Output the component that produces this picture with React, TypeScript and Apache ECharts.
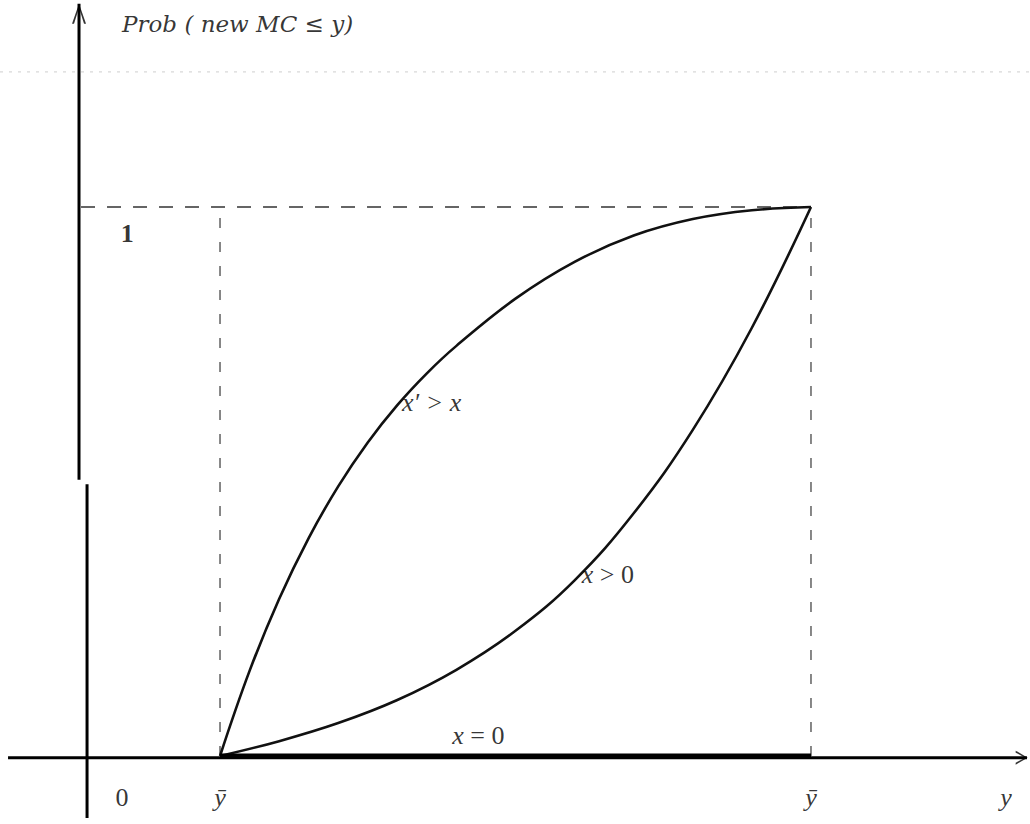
import React, { useEffect, useRef } from "react";
import * as echarts from "echarts";

// u: position on the y-axis between the lower ȳ (0) and the upper ȳ (1)
// p: Prob(new MC <= y)
const X_MIN = -0.3723;
const X_MAX = 1.3706;
const Y_MIN = -0.1239;
const Y_MAX = 1.377;

// curve "x' > x" (concave)
const curveHigh: [number, number][] = [
  [0, 0], [0.05, 0.155], [0.1, 0.286], [0.15, 0.397], [0.2, 0.491],
  [0.25, 0.571], [0.3, 0.639], [0.35, 0.697], [0.4, 0.747], [0.5, 0.833],
  [0.6, 0.9], [0.7, 0.948], [0.8, 0.978], [0.9, 0.994], [1, 1],
];
// curve "x > 0" (convex)
const curveLow: [number, number][] = [
  [0, 0], [0.1, 0.027], [0.2, 0.06], [0.3, 0.102], [0.4, 0.157],
  [0.5, 0.228], [0.6, 0.32], [0.7, 0.442], [0.8, 0.594], [0.9, 0.78],
  [1, 1],
];
// curve "x = 0"
const curveZero: [number, number][] = [[0, 0], [1, 0]];

const yBarLow = 0;
const yBarHigh = 1;
const probOne = 1;

// tick labels under the horizontal axis
const tickLabels = ["0", "ȳ", "ȳ", "y"];
const tickItalic = [false, true, true, true];
const tickValues = [-0.166, yBarLow, yBarHigh, 1.33];
const tickLabelP = -0.0765;

// curve labels [u, p, rich text]
const curveLabels: [number, number, string][] = [
  [0.308, 0.643, "{i|x\u2032 > x}"],
  [0.612, 0.33, "{i|x} {n|> 0}"],
  [0.393, 0.038, "{i|x} {n|= 0}"],
];

const titleText = "Prob ( new MC \u2264 y)";
const titlePos: [number, number] = [-0.1658, 1.333];
const oneLabelPos: [number, number] = [-0.157, 0.951];

// axis geometry (data units)
const AX_P = -0.003;
const AX_LEFT = -0.3587;
const AX_RIGHT = 1.3655;
const VAX_UPPER_U = -0.2386;
const VAX_LOWER_U = -0.225;
const VAX_TOP = 1.37;
const VAX_SPLIT_HI = 0.503;
const VAX_SPLIT_LO = 0.495;
const VAX_BOTTOM = -0.113;
const DASH_LEFT = -0.2352;
const SCAN_P = 1.246;

const SERIF = "'Liberation Serif', 'DejaVu Serif', 'Times New Roman', serif";
const WIDE_SERIF = "'DejaVu Serif', 'Liberation Serif', serif";
const INK = "#000";

const ARROW_RIGHT = "path://M0,0 L12,7 L0,14 L0,12 L9.5,7 L0,2 Z";
const ARROW_UP = "path://M0,20 L7,0 L14,20 L12,20 L7,4 L2,20 Z";

function seg(data: [number, number][], width: number, color: string, type: any = "solid", z = 2) {
  return {
    type: "line",
    data,
    symbol: "none",
    silent: true,
    z,
    lineStyle: { width, color, type },
  };
}

// smooth curve through the points, positioned with the chart's own scales
function smoothCurve(data: [number, number][], width: number, color: string) {
  return {
    type: "custom",
    silent: true,
    z: 3,
    data,
    encode: { x: 0, y: 1 },
    renderItem: (params: any, api: any) => {
      if (params.dataIndex !== 0) return null;
      const pts = data.map((d) => api.coord(d));
      return {
        type: "polyline",
        shape: { points: pts, smooth: 0.4 },
        style: { stroke: color, lineWidth: width, fill: "none" },
      };
    },
  };
}

export default function App() {
  const ref = useRef<HTMLDivElement>(null);
  useEffect(() => {
    if (!ref.current) return;
    const chart = echarts.init(ref.current, undefined, { renderer: "svg" });
    const labelStyle = (size: number, italic: boolean, weight: any = "normal", family = SERIF) => ({
      fontFamily: family,
      fontSize: size,
      fontStyle: italic ? "italic" : "normal",
      fontWeight: weight,
      color: INK,
    });
    const curveRich = {
      i: labelStyle(26, true),
      n: labelStyle(26, false),
    };
    chart.setOption({
      animation: false,
      backgroundColor: "#fff",
      grid: { left: 0, right: 0, top: 0, bottom: 0 },
      xAxis: { type: "value", min: X_MIN, max: X_MAX, show: false },
      yAxis: { type: "value", min: Y_MIN, max: Y_MAX, show: false },
      series: [
        seg([[X_MIN, SCAN_P], [X_MAX, SCAN_P]], 1, "#cfcfcf", [3, 6], 1),
        seg([[DASH_LEFT, probOne], [yBarHigh, probOne]], 1.6, "#333", [14, 12]),
        seg([[yBarLow, 0], [yBarLow, probOne]], 1.4, "#555", [10, 14]),
        seg([[yBarHigh, 0], [yBarHigh, probOne]], 1.4, "#555", [10, 14]),
        seg([[AX_LEFT, AX_P], [AX_RIGHT, AX_P]], 3, INK),
        seg([[VAX_UPPER_U, VAX_SPLIT_HI], [VAX_UPPER_U, VAX_TOP]], 3, INK),
        seg([[VAX_LOWER_U, VAX_BOTTOM], [VAX_LOWER_U, VAX_SPLIT_LO]], 3, INK),
        smoothCurve(curveHigh, 2.6, "#111"),
        smoothCurve(curveLow, 2.6, "#111"),
        seg(curveZero, 5, INK, "solid", 3),
        {
          type: "scatter",
          silent: true,
          z: 4,
          data: [
            { value: [AX_RIGHT - 0.009, AX_P], symbol: ARROW_RIGHT, symbolSize: [12, 14] },
            { value: [VAX_UPPER_U, VAX_TOP - 0.018], symbol: ARROW_UP, symbolSize: [14, 20] },
          ],
          itemStyle: { color: INK },
        },
        {
          type: "scatter",
          silent: true,
          z: 5,
          symbolSize: 0,
          data: tickValues.map((u, i) => ({
            value: [u, tickLabelP],
            name: tickLabels[i],
            label: { ...labelStyle(26, tickItalic[i]) },
          })),
          label: {
            show: true,
            position: "inside",
            formatter: (d: any) => d.name,
          },
          labelLayout: { hideOverlap: false },
        },
        {
          type: "scatter",
          silent: true,
          z: 5,
          symbolSize: 0,
          data: [
            {
              value: titlePos,
              name: titleText,
              label: { position: "right", distance: 0, ...labelStyle(23, true, "normal", WIDE_SERIF) },
            },
            {
              value: oneLabelPos,
              name: "1",
              label: { position: "inside", ...labelStyle(26, false, "bold") },
            },
            ...curveLabels.map(([u, p, t]) => ({
              value: [u, p],
              name: t,
              label: { position: "right", distance: 0, rich: curveRich, ...labelStyle(26, true) },
            })),
          ],
          label: { show: true, formatter: (d: any) => d.name },
        },
      ],
    });
    return () => chart.dispose();
  }, []);
  return (
    <div
      ref={ref}
      style={{ position: "fixed", left: 0, top: 0, width: 1030, height: 824, background: "#fff" }}
    />
  );
}
